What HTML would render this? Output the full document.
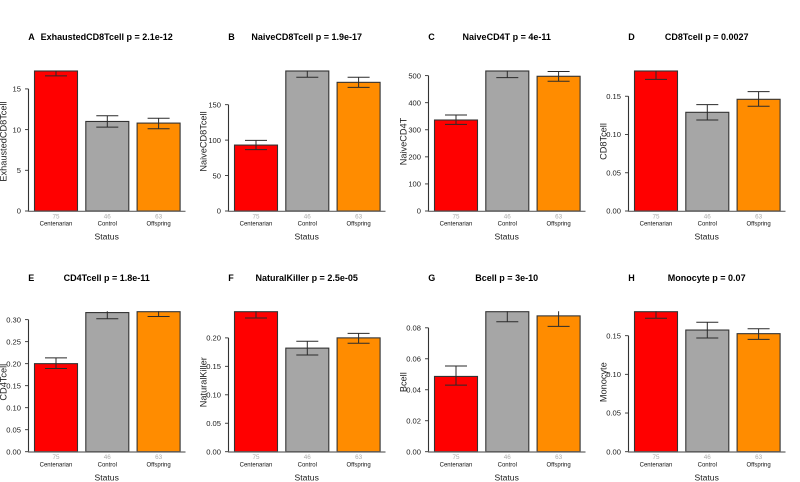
<!DOCTYPE html>
<html lang="en">
<head>
<meta charset="utf-8">
<title>Immune cell levels by status</title>
<style>
html,body{margin:0;padding:0;background:#fff;width:800px;height:482px;overflow:hidden}
svg{display:block;font-family:"Liberation Sans",Arial,sans-serif;filter:blur(.3px)}
</style>
</head>
<body>
<svg id="chart" width="800" height="482" viewBox="0 0 800 482" xmlns="http://www.w3.org/2000/svg"></svg>
<script>
const panelLetters = ['A','B','C','D','E','F','G','H'];
const cellNames = ['ExhaustedCD8Tcell','NaiveCD8Tcell','NaiveCD4T','CD8Tcell','CD4Tcell','NaturalKiller','Bcell','Monocyte'];
const pLabels = ['2.1e-12','1.9e-17','4e-11','0.0027','1.8e-11','2.5e-05','3e-10','0.07'];
const categories = ['Centenarian','Control','Offspring'];
const counts = [75,46,63];
const barColors = ['#ff0000','#a6a6a6','#ff8c00'];
const yMax = [17.2,197.5,517,0.183,0.318,0.246,0.0904,0.181];
const means = [
  [17.2,11.0,10.8],
  [93,197.5,181.5],
  [336,517,497.5],
  [0.183,0.129,0.146],
  [0.2,0.316,0.318],
  [0.246,0.182,0.2],
  [0.0486,0.0904,0.0877],
  [0.181,0.1573,0.1526]
];
const lowerErr = [
  [16.6,10.3,10.1],
  [86.5,188.6,174.4],
  [320,492.6,479],
  [0.172,0.119,0.137],
  [0.189,0.302,0.307],
  [0.235,0.17,0.1906],
  [0.043,0.0839,0.0809],
  [0.1725,0.147,0.1452]
];
const upperErr = [
  [17.8,11.7,11.4],
  [99.7,206,188.6],
  [354.6,540,515],
  [0.194,0.139,0.156],
  [0.213,0.33,0.329],
  [0.257,0.194,0.208],
  [0.0553,0.097,0.095],
  [0.19,0.1673,0.159]
];
const yTicks = [
  [0,5,10,15],
  [0,50,100,150],
  [0,100,200,300,400,500],
  [0,0.05,0.10,0.15],
  [0,0.05,0.10,0.15,0.20,0.25,0.30],
  [0,0.05,0.10,0.15,0.20],
  [0,0.02,0.04,0.06,0.08],
  [0,0.05,0.10,0.15]
];
const yTickLabels = [
  ['0','5','10','15'],
  ['0','50','100','150'],
  ['0','100','200','300','400','500'],
  ['0.00','0.05','0.10','0.15'],
  ['0.00','0.05','0.10','0.15','0.20','0.25','0.30'],
  ['0.00','0.05','0.10','0.15','0.20'],
  ['0.00','0.02','0.04','0.06','0.08'],
  ['0.00','0.05','0.10','0.15']
];

const SVG_NS = 'http://www.w3.org/2000/svg';
const root = document.getElementById('chart');
const PANEL_W = 200, PLOT_H = 140, ROW_BASE = [211, 451.7], TITLE_Y = [40, 281];
const BAR_START = 34.5, BAR_W = 43, BAR_STEP = 51.3, CAP_HALF = 11;

function mk(tag, parent, attrs, text) {
  const el = document.createElementNS(SVG_NS, tag);
  for (const k in attrs) el.setAttribute(k, attrs[k]);
  if (text !== undefined) el.textContent = text;
  parent.appendChild(el);
  return el;
}

panelLetters.forEach(function (letter, p) {
  const col = p % 4, row = Math.floor(p / 4);
  const ox = col * PANEL_W;
  const base = ROW_BASE[row];
  const top = base - PLOT_H;
  const yScale = function (v) { return base - (v / yMax[p]) * PLOT_H; };
  const xBand = function (i) { return ox + BAR_START + i * BAR_STEP; };

  const g = mk('g', root, {});
  
  

  const clip = mk('clipPath', g, { id: 'clip-' + p });
  mk('rect', clip, { x: ox, y: top - 0.5, width: PANEL_W, height: PLOT_H + 2 });

  const letterEl = mk('text', g, { x: ox + 28.3, y: TITLE_Y[row], 'font-size': 9, 'font-weight': 'bold', fill: '#000' }, letter);
  
  

  const titleEl = mk('text', g, { x: ox + 106.7, y: TITLE_Y[row], 'font-size': 9, 'font-weight': 'bold', fill: '#000', 'text-anchor': 'middle' }, cellNames[p] + ' p = ' + pLabels[p]);
  
  

  categories.forEach(function (cat, i) {
    const x = xBand(i), cx = x + BAR_W / 2;
    const bar = mk('rect', g, {
      x: x, y: yScale(means[p][i]), width: BAR_W, height: base - yScale(means[p][i]),
      fill: barColors[i], stroke: '#333', 'stroke-width': 1.1
    });
    
    

    const err = mk('g', g, { stroke: '#2a2a2a', 'stroke-width': 1, 'clip-path': 'url(#clip-' + p + ')' });
    
    
    const yLo = yScale(lowerErr[p][i]), yHi = yScale(upperErr[p][i]);
    mk('line', err, { x1: cx, x2: cx, y1: yLo, y2: yHi });
    mk('line', err, { x1: cx - CAP_HALF, x2: cx + CAP_HALF, y1: yLo, y2: yLo });
    mk('line', err, { x1: cx - CAP_HALF, x2: cx + CAP_HALF, y1: yHi, y2: yHi });

    const countEl = mk('text', g, { x: cx, y: base + 7.4, 'font-size': 6.3, fill: '#aaa', 'text-anchor': 'middle' }, counts[i]);
    
    

    const catEl = mk('text', g, { x: cx, y: base + 14.7, 'font-size': 6, fill: '#111', 'text-anchor': 'middle' }, cat);
    
    
  });

  const ticks = yTicks[p];
  const yAxis = mk('line', g, { x1: ox + 28.5, x2: ox + 28.5, y1: base, y2: yScale(ticks[ticks.length - 1]), stroke: '#333', 'stroke-width': 1.1 });
  
  

  ticks.forEach(function (t, i) {
    const y = yScale(t);
    mk('line', g, { x1: ox + 25, x2: ox + 28.5, y1: y, y2: y, stroke: '#333', 'stroke-width': 0.9 });
    const lab = mk('text', g, { x: ox + 21, y: y + 2.7, 'font-size': 7.6, fill: '#222', 'text-anchor': 'end' }, yTickLabels[p][i]);
    
    
  });

  const xAxis = mk('line', g, { x1: ox + 28, x2: ox + 185.5, y1: base + 0.3, y2: base + 0.3, stroke: '#666', 'stroke-width': 1.2 });
  
  

  const xTitle = mk('text', g, { x: ox + 106.7, y: base + 28.6, 'font-size': 8.6, fill: '#222', 'text-anchor': 'middle' }, 'Status');
  
  

  const cy = base - 69.5;
  const yTitle = mk('text', g, { x: ox + 6.5, y: cy, 'font-size': 9.2, fill: '#222', 'text-anchor': 'middle', transform: 'rotate(-90 ' + (ox + 6.5) + ' ' + cy + ')' }, cellNames[p]);
  
  
});
</script>
</body>
</html>
